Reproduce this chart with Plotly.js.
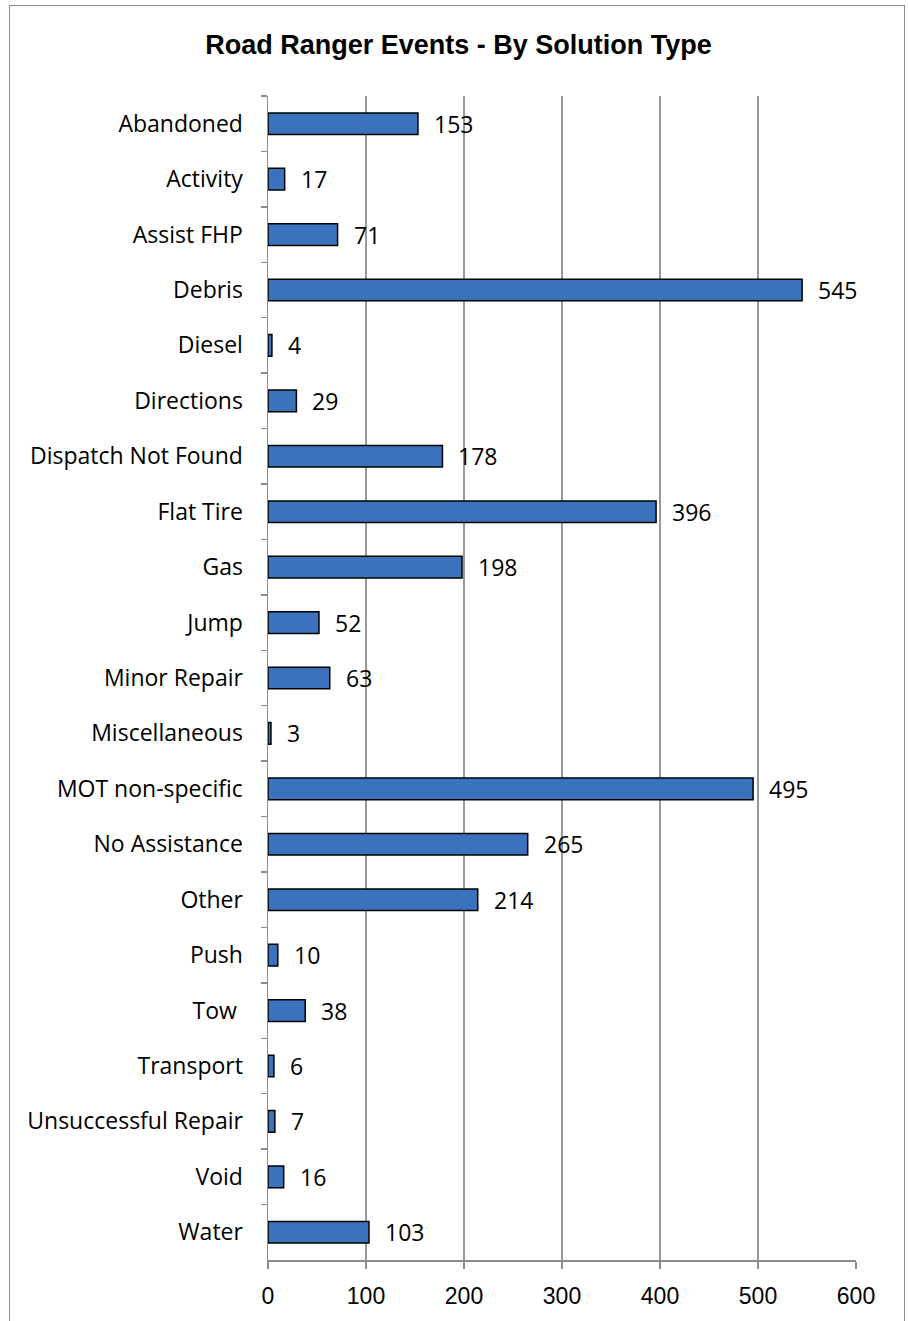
<!DOCTYPE html>
<html>
<head>
<meta charset="utf-8">
<script src="https://cdn.plot.ly/plotly-3.0.1.min.js"></script>
<style>
html,body{margin:0;padding:0;background:#fff;overflow:hidden;}
#frame{position:absolute;left:9px;top:5px;width:896px;height:1330px;border:1.5px solid #8c8c8c;box-sizing:border-box;}
#chart{position:absolute;left:0;top:0;width:908px;height:1321px;}
</style>
</head>
<body>
<div id="frame"></div>
<div id="chart"></div>
<script>
const categories = ["Abandoned","Activity","Assist FHP","Debris","Diesel","Directions","Dispatch Not Found","Flat Tire","Gas","Jump","Minor Repair","Miscellaneous","MOT non-specific","No Assistance","Other","Push","Tow ","Transport","Unsuccessful Repair","Void","Water"];
const values = [153,17,71,545,4,29,178,396,198,52,63,3,495,265,214,10,38,6,7,16,103];
const xTicks = [0,100,200,300,400,500,600];
const titleText = "Road Ranger Events - By Solution Type";

const labelFont = {family:"Open Sans, sans-serif", size:23, color:"#000"};

const trace = {
  type:"bar", orientation:"h",
  y: categories, x: values,
  width: 0.39,
  marker:{color:"#3a72bd", line:{color:"#000", width:1.5}},
  hoverinfo:"x+y",
  cliponaxis:false
};

const annotations = categories.map((c,i)=>({
  x: values[i], y: c, xref:"x", yref:"y",
  text: String(values[i]), showarrow:false,
  xanchor:"left", yanchor:"middle", xshift:14,
  font: labelFont
}));

const layout = {
  width:908, height:1321,
  margin:{l:268, r:52, t:96, b:61},
  paper_bgcolor:"rgba(0,0,0,0)", plot_bgcolor:"rgba(0,0,0,0)",
  showlegend:false,
  title:{text:"<b>"+titleText+"</b>", x:0.505, xanchor:"center", y:0.966, yanchor:"middle",
         font:{family:"Liberation Sans, Arial, sans-serif", size:27, color:"#000"}},
  xaxis:{range:[0,600], tickvals:xTicks, ticktext:xTicks.map(String),
         showgrid:true, gridcolor:"#999999", gridwidth:1.5,
         showline:true, linecolor:"#8c8c8c", linewidth:1.5,
         ticks:"outside", ticklen:7, tickcolor:"#8c8c8c", tickwidth:1.5,
         ticklabelstandoff:8,
         zeroline:false, fixedrange:true,
         tickfont:{family:"Liberation Sans, sans-serif", size:23, color:"#000"}},
  yaxis:{autorange:"reversed", type:"category",
         showline:true, linecolor:"#8c8c8c", linewidth:1.5,
         ticks:"outside", ticklen:6, tickcolor:"#8c8c8c", tickwidth:1.5,
         tickson:"boundaries", showgrid:false, zeroline:false, fixedrange:true,
         ticklabelstandoff:19,
         tickfont:labelFont},
  annotations: annotations
};

Plotly.newPlot("chart",[trace],layout,{displayModeBar:false, staticPlot:true});
</script>
</body>
</html>
